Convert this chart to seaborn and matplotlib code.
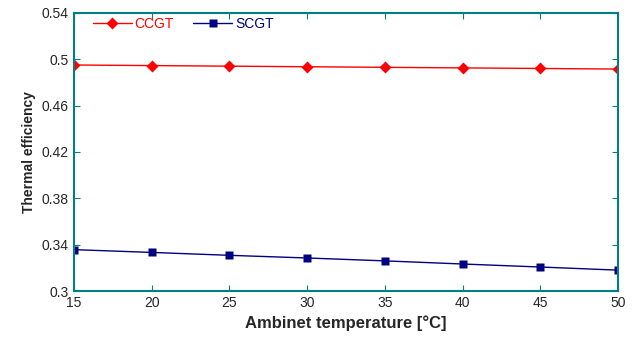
import pandas as pd
import seaborn as sns
import matplotlib.pyplot as plt

# Datos
temperatura = [15, 20, 25, 30, 35, 40, 45, 50]
ccgt = [0.4950, 0.4945, 0.4940, 0.4935, 0.4930, 0.4925, 0.4920, 0.4915]
scgt = [0.3357, 0.3333, 0.3308, 0.3285, 0.3260, 0.3233, 0.3207, 0.3180]

df = pd.DataFrame({"temp": temperatura * 2,
                   "eff": ccgt + scgt,
                   "ciclo": ["CCGT"] * 8 + ["SCGT"] * 8})

sns.set_style("white")
plt.rcParams['font.family'] = ['Liberation Sans', 'DejaVu Sans']

teal = "#008080"
fig, ax = plt.subplots(figsize=(6.42, 3.38), dpi=100)
sns.lineplot(data=df, x="temp", y="eff", hue="ciclo", style="ciclo",
             palette={"CCGT": "#ff0000", "SCGT": "#000080"},
             markers={"CCGT": "D", "SCGT": "s"}, dashes=False,
             markersize=6, markeredgecolor="none", linewidth=1, ax=ax)

ax.set_xlim(15, 50)
ax.set_ylim(0.3, 0.54)
ax.set_xticks(temperatura)
ax.set_yticks([0.3, 0.34, 0.38, 0.42, 0.46, 0.5, 0.54])
ax.set_yticklabels(["0.3", "0.34", "0.38", "0.42", "0.46", "0.5", "0.54"])
ax.tick_params(direction="in", color=teal, length=4, labelsize=10,
               top=True, right=True, bottom=True, left=True)
for s in ax.spines.values():
    s.set_color(teal)
    s.set_linewidth(1.5)

ax.set_xlabel("Ambinet temperature [°C]", fontsize=12, fontweight="bold")
ax.set_ylabel("Thermal efficiency", fontsize=10, fontweight="bold")

leg = ax.legend(loc="upper left", ncol=2, frameon=False, fontsize=10,
                handlelength=2.8, handletextpad=0.2, columnspacing=1.4,
                borderaxespad=0, bbox_to_anchor=(0.025, 1.005))
for txt, c in zip(leg.get_texts(), ["#ff0000", "#000080"]):
    txt.set_color(c)

plt.subplots_adjust(left=0.115, right=0.963, top=0.962, bottom=0.139)
plt.savefig("out.png", dpi=100)
